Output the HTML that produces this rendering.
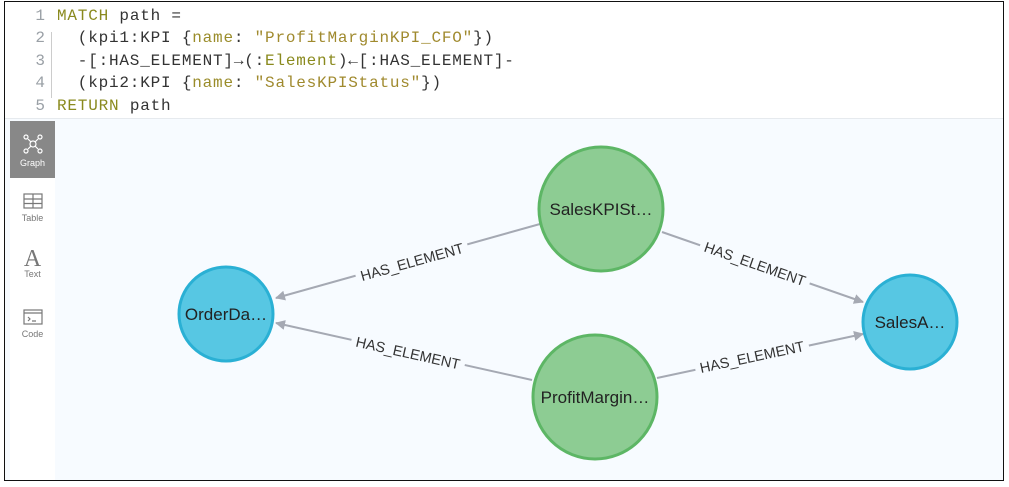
<!DOCTYPE html>
<html><head><meta charset="utf-8">
<style>
html,body{margin:0;padding:0;background:#fff;}
body{width:1009px;height:487px;position:relative;overflow:hidden;font-family:"Liberation Sans",sans-serif;}
.frame{position:absolute;left:4px;top:1px;width:1000px;height:480px;border:1px solid #111;box-sizing:border-box;}
.code{position:absolute;left:5px;top:2px;width:998px;height:116px;background:#fff;border-bottom:1px solid #e6eaee;font-family:"Liberation Mono","DejaVu Sans Mono",monospace;font-size:16px;letter-spacing:0.8px;color:#333;}
.ln{position:absolute;left:26px;width:14px;text-align:right;color:#9aa0a6;letter-spacing:0;}
.tx{position:absolute;left:52px;white-space:pre;}
.kw{color:#8a8a1e;} .nm{color:#9a8c2a;} .st{color:#a08a2e;} .el{color:#8a8a1e;}
.guide{position:absolute;left:46px;top:30px;width:1px;height:66px;background:#ccc;}
.graph{position:absolute;left:5px;top:119px;width:998px;height:361px;background:#f7fbff;}
.side{position:absolute;left:10px;top:121px;width:45px;height:359px;background:#fff;}
.btn{position:absolute;left:10px;width:45px;height:57px;text-align:center;font-size:9px;color:#777;}
.btn svg{display:block;margin:12px auto 3px;}
</style></head><body>
<div class="code">
<div class="ln" style="top:5px">1</div><div class="tx" style="top:5px"><span class="kw">MATCH</span> path =</div>
<div class="ln" style="top:27px">2</div><div class="tx" style="top:27px">  (kpi1:KPI {<span class="nm">name</span>: <span class="st">"ProfitMarginKPI_CFO"</span>})</div>
<div class="ln" style="top:50px">3</div><div class="tx" style="top:50px">  -[:HAS_ELEMENT]→(:<span class="el">Element</span>)←[:HAS_ELEMENT]-</div>
<div class="ln" style="top:72px">4</div><div class="tx" style="top:72px">  (kpi2:KPI {<span class="nm">name</span>: <span class="st">"SalesKPIStatus"</span>})</div>
<div class="ln" style="top:95px">5</div><div class="tx" style="top:95px"><span class="kw">RETURN</span> path</div>
<div class="guide"></div>
</div>
<div class="graph"></div>
<div class="side"></div>
<div class="btn" style="top:121px;background:#888;color:#fff;height:57px">
<svg width="22" height="22" viewBox="0 0 22 22" fill="none" stroke="#fff" stroke-width="1.2"><circle cx="11" cy="11" r="3"/><circle cx="4" cy="4" r="2"/><circle cx="18" cy="4" r="2"/><circle cx="4" cy="18" r="2"/><circle cx="18" cy="18" r="2"/><path d="M6 6l3 3M16 6l-3 3M6 16l3-3M16 16l-3-3"/></svg>Graph</div>
<div class="btn" style="top:180px"><svg width="22" height="18" viewBox="0 0 22 18" fill="none" stroke="#777" stroke-width="1.2"><rect x="2" y="2" width="18" height="14"/><path d="M2 7h18M2 11.5h18M11 2v14"/></svg>Table</div>
<div class="btn" style="top:237px;font-size:9px"><div style="font-family:'Liberation Serif',serif;font-size:24px;margin-top:12px;line-height:20px">A</div>Text</div>
<div class="btn" style="top:296px"><svg width="22" height="18" viewBox="0 0 22 18" fill="none" stroke="#777" stroke-width="1.2"><rect x="2" y="2" width="18" height="14"/><path d="M2 5h18M6 9l2 2-2 2M10 13h4"/></svg>Code</div>
<svg style="position:absolute;left:0;top:0" width="1009" height="487">
<defs><marker id="a" markerWidth="10" markerHeight="10" refX="9" refY="5" orient="auto" markerUnits="userSpaceOnUse"><path d="M0 0L10 5L0 10Z" fill="#a5a9b3"/></marker></defs>
<g stroke="#a5a9b3" stroke-width="2" fill="none">
<line x1="540" y1="224" x2="276" y2="298" marker-end="url(#a)"/>
<line x1="662" y1="232" x2="863" y2="302" marker-end="url(#a)"/>
<line x1="532" y1="380" x2="276" y2="323" marker-end="url(#a)"/>
<line x1="657" y1="378" x2="863" y2="334" marker-end="url(#a)"/>
</g>
<g font-family="Liberation Sans,sans-serif" font-size="14.5" fill="#333" text-anchor="middle">
<g transform="translate(412,262) rotate(-15.6)"><rect x="-58" y="-9" width="116" height="18" fill="#f7fbff"/><text y="5">HAS_ELEMENT</text></g>
<g transform="translate(755,264) rotate(19.3)"><rect x="-58" y="-9" width="116" height="18" fill="#f7fbff"/><text y="5">HAS_ELEMENT</text></g>
<g transform="translate(408,353) rotate(12.5)"><rect x="-58" y="-9" width="116" height="18" fill="#f7fbff"/><text y="5">HAS_ELEMENT</text></g>
<g transform="translate(752,357) rotate(-12)"><rect x="-58" y="-9" width="116" height="18" fill="#f7fbff"/><text y="5">HAS_ELEMENT</text></g>
</g>
<g font-family="Liberation Sans,sans-serif" font-size="17" fill="#222" text-anchor="middle">
<circle cx="226" cy="314" r="47" fill="#57c7e3" stroke="#2ab0d4" stroke-width="3"/><text x="226" y="320">OrderDa…</text>
<circle cx="910" cy="322" r="47" fill="#57c7e3" stroke="#2ab0d4" stroke-width="3"/><text x="910" y="328">SalesA…</text>
<circle cx="601" cy="209" r="62" fill="#8dcc93" stroke="#5db665" stroke-width="3"/><text x="601" y="215">SalesKPISt…</text>
<circle cx="595" cy="397" r="62" fill="#8dcc93" stroke="#5db665" stroke-width="3"/><text x="595" y="403">ProfitMargin…</text>
</g>
</svg>
<div class="frame"></div>
</body></html>
